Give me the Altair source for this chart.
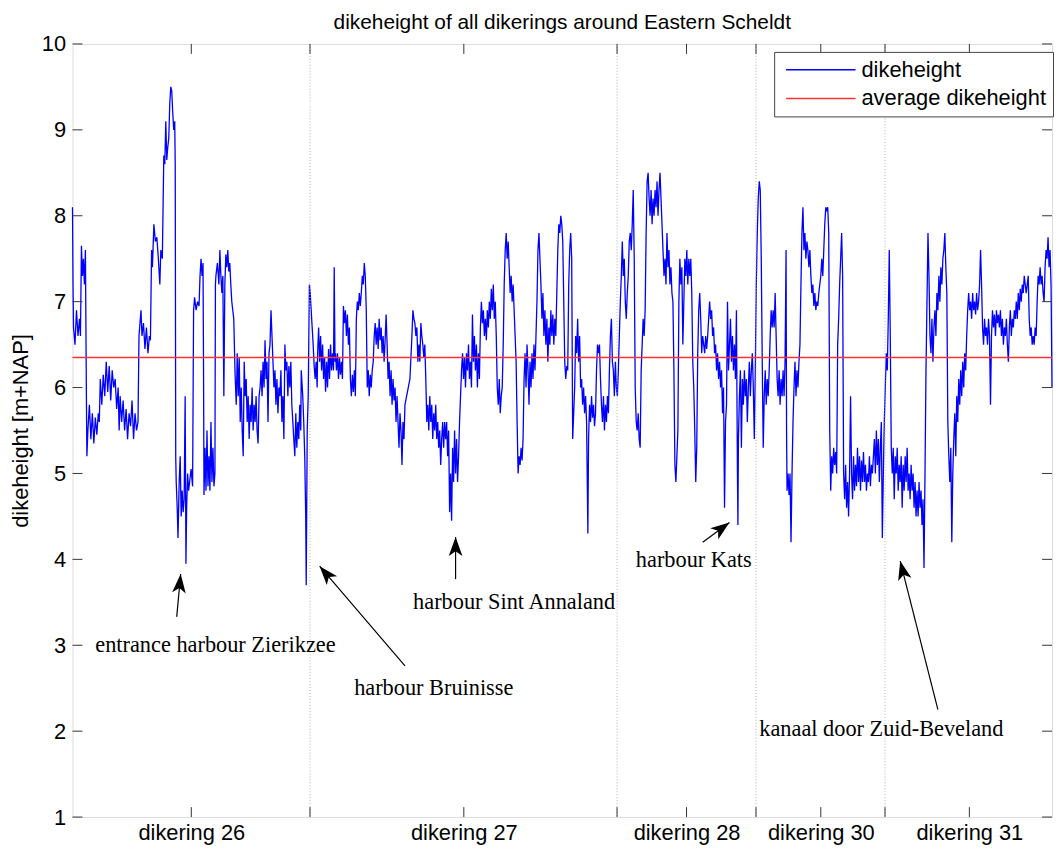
import math
import altair as alt
import pandas as pd

# ---------------- data (chainage index along the dike, dikeheight m+NAP) ----------------
dikering_26 = [
    [73, 8.1], [73.5, 7.2], [74, 6.7], [75.5, 6.5], [77, 6.9], [78.5, 6.6], [80, 6.8], [81, 6.6], [82, 7.65], [83, 7.3],
    [84, 7.5], [85, 7.2], [86, 7.6], [87, 5.9], [87.5, 5.2], [88.5, 5.5], [90, 5.8], [91.5, 5.4], [93, 5.7], [94.5, 5.35],
    [96, 5.65], [97.5, 5.45], [99, 5.7], [100, 5.6], [101, 6.1], [102.5, 5.8], [104, 6.15], [105.5, 5.9], [107, 6.3],
    [108.5, 5.95], [110, 6.25], [111.5, 5.85], [113, 6.2], [114.5, 6.0], [116, 6.1], [117.5, 5.75], [119, 6.0], [120, 5.5],
    [121, 5.9], [122.5, 5.6], [124, 5.85], [125.5, 5.5], [127, 5.75], [128.5, 5.4], [130, 5.7], [131.5, 5.55], [133, 5.85],
    [134.5, 5.4], [136, 5.7], [137.5, 5.5], [139, 5.6], [140, 6.6], [141, 6.75], [142, 6.9], [143, 6.6], [144.5, 6.75],
    [146, 6.45], [147.5, 6.7], [149, 6.4], [150.5, 6.6], [151.5, 6.55], [152.7, 7.6], [153.5, 7.4], [155, 7.9], [156.5, 7.7],
    [158, 7.75], [159.5, 7.5], [161, 7.2], [162, 7.6], [163.5, 7.5], [165, 8.7], [166, 8.6], [167, 9.1], [168, 8.65],
    [169, 8.8], [170, 8.9], [171, 9.3], [172, 9.5], [173, 9.45], [174, 9.2], [175, 9.0], [176, 9.1], [176.5, 8.6], [177, 5.2],
    [177.5, 4.9], [178.5, 4.6], [179.3, 4.25], [180.5, 4.9], [181.5, 5.2], [182.5, 4.5], [183.5, 4.8], [184.5, 4.55],
    [185.5, 4.7], [186.5, 5.9], [187.3, 3.95], [188, 4.6], [189, 5.0], [190, 4.8], [191, 4.9], [192.5, 5.05], [194, 4.85],
    [195, 6.9], [196, 7.05], [197.5, 6.9], [199, 7.0], [200.5, 6.95], [201.5, 7.3], [202.5, 7.5], [203.5, 7.3], [204.5, 7.45],
    [205, 6.3], [205.5, 4.75], [206.5, 5.3], [207.5, 4.8], [208.5, 5.5], [209.5, 4.85], [210.5, 5.2], [211.5, 4.8],
    [212.5, 5.6], [213.5, 4.9], [214.5, 5.3], [215.5, 4.85], [216.5, 5.0], [217, 7.2], [217.5, 7.3], [219, 7.45],
    [220.5, 7.2], [221.5, 7.6], [222.5, 7.3], [223.5, 7.1], [224.5, 7.3], [225.5, 5.9], [226.5, 7.2], [227.5, 7.55],
    [228.5, 7.4], [229.5, 7.6], [230.5, 7.35], [231.5, 7.45], [232.5, 7.2], [233.5, 7.0], [234.5, 6.9], [235.5, 6.8],
    [236.7, 6.2], [237, 6.1], [238, 5.8], [239, 6.4], [240, 5.9], [241, 6.35], [242, 5.6], [243, 6.0], [244, 5.5], [245, 5.2],
    [246, 6.3], [247, 5.9], [248, 6.1], [249, 5.6], [250, 5.9], [251, 5.4], [252, 5.8], [253, 5.6], [254, 6.0], [255, 5.5],
    [256, 5.8], [257, 5.6], [258, 5.9], [259, 5.5], [260, 5.35], [261, 5.9], [262, 6.0], [263, 6.2], [264, 5.9], [265, 6.3],
    [266, 6.0], [267, 6.55], [268, 6.1], [269, 6.3], [270, 5.6], [271, 6.4], [272, 6.5], [273, 6.9], [274, 6.6], [275, 6.3],
    [276, 6.0], [277, 6.2], [278, 5.8], [279, 6.1], [280, 5.7], [281, 6.0], [282, 5.9], [283, 6.2], [284, 5.6], [285, 5.9],
    [286, 5.4], [287, 6.5], [288, 6.2], [289, 6.3], [290, 5.9], [291, 6.25], [292, 6.0], [293, 6.3], [294, 5.8], [296, 5.4],
    [297, 5.2], [298, 5.7], [299, 5.3], [300, 5.6], [301, 5.4], [302, 5.8], [303, 5.5], [303.5, 6.2], [305, 5.9], [306, 5.6],
    [307, 5.2], [308, 4.5], [308.5, 3.7], [309.5, 5.5], [310.5, 5.9], [311.7, 7.2],
]
dikering_27 = [
    [312.5, 7.1], [313.5, 6.9], [314.5, 6.7], [315.5, 6.5], [316.5, 6.25], [317.5, 6.1], [318.5, 6.3], [319.5, 6.0],
    [320, 6.4], [321, 6.7], [322, 6.3], [323, 6.6], [324, 6.2], [325, 6.5], [326, 6.1], [327, 6.35], [328, 5.95], [329, 6.3],
    [330, 6.0], [331, 6.45], [332, 6.1], [333, 6.5], [334, 6.2], [335, 6.4], [336, 6.2], [336.7, 7.4], [337.5, 6.3],
    [338, 6.4], [339, 6.2], [340, 6.4], [341, 6.1], [342, 6.35], [343, 6.15], [344, 6.3], [345, 6.1], [346, 6.95],
    [347, 6.75], [348, 6.9], [349, 6.6], [350, 6.85], [351, 6.5], [352, 6.7], [353, 6.1], [354, 5.9], [355, 6.15],
    [356, 5.95], [357, 6.2], [358, 5.9], [359, 6.8], [360, 7.0], [361, 6.9], [362, 7.1], [363, 6.95], [364, 7.1], [365, 7.3],
    [366, 7.2], [367, 7.45], [368, 7.3], [369, 6.9], [370, 6.0], [371, 6.2], [372, 5.9], [373, 6.15], [374, 6.0], [375, 6.2],
    [376, 6.3], [377, 6.6], [378, 6.75], [379, 6.5], [380, 6.7], [381, 6.45], [382, 6.8], [383, 6.55], [384, 6.7],
    [385, 6.4], [386, 6.6], [387, 6.3], [388, 6.55], [389, 6.85], [390, 6.5], [391, 6.1], [392, 6.3], [393, 5.9], [394, 6.2],
    [395, 5.8], [396, 6.1], [397, 5.85], [398, 6.0], [399, 5.6], [400, 5.9], [401, 5.6], [402, 5.3], [403, 5.7], [404, 5.5],
    [405, 5.1], [406, 5.6], [407, 5.4], [408, 5.8], [413, 6.1], [415, 6.6], [416, 6.9], [417, 6.8], [418, 6.75], [419, 6.6],
    [420, 6.7], [421, 6.3], [422, 6.5], [423, 6.3], [424, 6.75], [425, 6.6], [426, 6.5], [427, 6.35], [428, 6.5], [429, 6.1],
    [430, 5.6], [431, 5.8], [432, 5.5], [433, 5.9], [434, 5.6], [435, 5.8], [436, 5.4], [437, 5.7], [438, 5.5], [439, 5.8],
    [440, 5.4], [441, 5.6], [442, 5.3], [443, 5.5], [444, 5.1], [445, 5.4], [446, 5.6], [447, 5.3], [448, 5.6], [449, 5.4],
    [450, 5.6], [451, 5.2], [452, 5.5], [453, 4.55], [454, 5.0], [455, 4.45], [456, 5.3], [457, 4.9], [458, 5.5], [459, 5.0],
    [460, 5.4], [461, 4.9], [462, 5.2], [463, 5.6], [464, 5.9], [465, 6.2], [466, 6.4], [467, 6.1], [468, 6.35], [469, 6.0],
    [470, 6.4], [471, 6.2], [472, 6.5], [473, 6.1], [474, 6.3], [475, 6.0], [476, 6.85], [477, 6.3], [478, 6.6], [479, 6.2],
    [480, 6.5], [481, 6.0], [482, 6.4], [483, 6.1], [484, 6.7], [485, 7.0], [486, 6.75], [487, 6.9], [488, 6.6], [489, 6.8],
    [490, 6.55], [491, 6.9], [492, 6.7], [493, 7.0], [494, 6.8], [495, 7.15], [496, 6.9], [497, 7.2], [498, 6.8], [499, 7.0],
    [500, 6.6], [501, 6.0], [502, 5.8], [503, 6.1], [504, 5.7], [505, 5.9], [506, 6.0], [507, 6.5], [508, 7.2], [509, 7.6],
    [510, 7.8], [511, 7.5], [512, 7.7], [513, 7.4], [514, 7.1], [515, 7.3], [516, 7.0], [517, 7.2], [518, 6.9], [519, 6.6],
    [520, 6.3], [521, 5.6], [522, 5.0], [523, 5.2], [524, 5.1], [525, 5.3], [526, 5.15], [527, 5.4], [528, 6.1], [529, 6.4],
    [530, 6.0], [531, 6.5], [532, 6.2], [533, 5.8], [534, 6.3], [535, 6.0], [536, 6.4], [537, 6.1], [538, 6.5], [539, 6.2],
    [540, 6.6], [541, 7.0], [542, 7.6], [543, 7.8], [544, 7.5], [545, 7.2], [546, 6.8], [547, 7.1], [548, 6.6], [549, 6.9],
    [550, 6.5], [551, 6.8], [552, 6.3], [553, 6.7], [554, 6.5], [555, 6.9], [556, 6.6], [557, 6.85], [558, 6.5], [559, 6.8],
    [560, 6.6], [561, 7.1], [562, 7.6], [563, 7.9], [564, 7.8], [565, 8.0], [566, 7.9], [567, 7.7], [568, 7.0], [569, 6.3],
    [570, 6.1], [571, 6.25], [572, 6.2], [573, 7.2], [574, 7.6], [575, 7.8], [576, 7.5], [577, 5.4], [578, 5.7], [579, 6.0],
    [580, 6.6], [581, 6.4], [582, 6.8], [583, 6.3], [584, 6.6], [585, 6.0], [586, 6.1], [587, 5.8], [588, 6.0], [589, 5.7],
    [590, 5.9], [591, 5.6], [592.3, 4.3], [593, 5.4], [594, 5.8], [595, 5.6], [596, 5.9], [597, 5.65], [598, 5.8],
    [599, 5.55], [600, 5.7], [601, 6.2], [602, 6.5], [603, 6.4], [604, 6.5], [605, 6.1], [606, 5.8], [607, 5.6], [608, 5.9],
    [609, 5.5], [610, 5.8], [611, 5.6], [612, 5.9], [613, 5.7], [614, 6.2], [615, 6.6], [616, 6.8], [617, 6.3], [618, 6.2],
    [619, 5.9], [620, 6.3], [621, 6.0], [622, 5.9],
]
dikering_28 = [
    [623, 6.2], [624, 6.6], [625, 7.0], [626, 7.3], [627, 7.7], [628, 7.3], [629, 7.5], [630, 7.0], [631, 6.8], [632, 7.1],
    [633, 7.3], [634, 7.7], [635, 7.8], [636, 7.6], [637, 7.9], [638, 8.3], [639, 7.5], [640, 6.0], [641, 5.6], [642, 5.5],
    [643, 5.7], [644, 5.4], [645, 5.3], [646, 6.2], [647, 6.5], [648, 6.8], [649, 6.6], [650, 6.9], [651, 7.8], [652, 8.4],
    [653, 8.5], [654, 8.2], [655, 8.0], [656, 8.3], [657, 7.9], [658, 8.2], [659, 8.0], [660, 8.3], [661, 8.1], [662, 8.4],
    [663, 8.0], [664, 8.3], [665, 8.5], [666, 8.2], [667, 7.9], [668, 7.6], [669, 7.3], [670, 7.5], [671, 7.2], [672, 7.8],
    [673, 7.4], [674, 7.6], [675, 7.2], [676, 7.4], [677, 7.1], [678, 7.0], [679, 6.2], [680, 5.1], [681, 4.9], [682, 5.2],
    [683, 5.5], [684, 7.0], [685, 7.5], [686, 7.2], [687, 7.4], [688, 6.5], [689, 7.0], [690, 7.5], [691, 7.3], [692, 7.6],
    [693, 7.2], [694, 7.5], [695, 7.3], [696, 7.5], [697, 7.1], [698, 6.3], [699, 6.0], [700, 5.5], [701, 4.9], [702, 5.3],
    [703, 6.4], [704, 6.9], [705, 7.1], [706, 6.8], [707, 6.4], [708, 6.6], [709, 6.5], [710, 6.4], [711, 6.6], [712, 6.45],
    [713, 6.6], [715, 7.0], [716, 6.8], [717, 6.9], [718, 6.6], [719, 6.7], [720, 6.4], [721, 6.5], [722, 6.2], [723, 6.4],
    [724, 6.1], [725, 6.3], [726, 6.0], [727, 6.2], [728, 5.7], [729, 6.0], [730, 4.6], [731, 5.6], [732, 5.8], [733, 7.0],
    [734, 6.2], [735, 6.5], [736, 6.8], [737, 6.3], [738, 6.6], [739, 6.2], [740, 6.5], [741, 6.1], [742, 6.9], [743, 5.0],
    [743.5, 4.4], [744, 5.4], [745, 5.9], [746, 6.2], [747, 5.3], [748, 6.1], [749, 5.8], [750, 6.2], [751, 5.9], [752, 6.1],
    [753, 5.6], [754, 6.0], [755, 6.3], [756, 5.9], [757, 6.2], [758, 6.4], [759, 6.0], [760, 5.4], [761, 6.2], [762, 7.2],
]
dikering_30 = [
    [763, 7.8], [764, 8.2], [765, 8.4], [766, 8.3], [767, 7.5], [768, 6.3], [769, 5.3], [770, 5.9], [771, 6.2], [772, 5.8],
    [773, 6.1], [774, 5.9], [775, 6.2], [776, 6.6], [777, 6.9], [778, 6.7], [779, 6.9], [780, 6.7], [781, 7.1], [782, 6.6],
    [783, 6.1], [784, 5.9], [785, 6.2], [786, 5.8], [787, 6.1], [788, 5.9], [789, 6.2], [790, 5.9], [791, 6.3], [792, 7.6],
    [792.5, 5.5], [793, 4.8], [794, 5.0], [795, 4.75], [796, 5.0], [797, 4.2], [798, 5.0], [799, 5.6], [800, 6.0], [801, 6.3],
    [802, 5.9], [803, 6.2], [804, 6.0], [805, 6.3], [806, 6.5], [807, 7.2], [808, 7.8], [809, 8.1], [810, 7.6], [811, 7.8],
    [812, 7.5], [813, 7.7], [814, 7.6], [815, 7.4], [816, 7.6], [817, 7.3], [818, 7.1], [819, 7.2], [820, 6.95], [821, 7.1],
    [822, 6.9], [823, 7.0], [824, 6.95], [825, 7.1], [826, 7.2], [827, 7.3], [828, 7.5], [829, 7.3], [830, 7.6], [831, 7.9],
    [832, 8.1], [833, 8.05], [834, 8.1], [835, 7.8], [836, 5.5], [837, 4.8], [838, 5.2], [839, 5.0], [840, 5.3], [841, 5.1],
    [842, 5.25], [843, 5.0], [844, 6.5], [845, 6.8], [846, 7.2], [847, 7.5], [848, 7.8], [849, 7.3], [850, 5.0], [851, 4.7],
    [852, 5.1], [853, 4.6], [854, 4.9], [855, 4.5], [856, 5.0], [857, 5.9], [858, 5.0], [859, 4.7], [860, 5.2], [861, 4.8],
    [862, 5.1], [863, 4.85], [864, 5.3], [865, 4.9], [866, 5.2], [867, 4.8], [868, 5.15], [869, 4.9], [870, 5.25], [871, 4.9],
    [872, 5.1], [873, 4.8], [874, 5.0], [875, 4.9], [876, 5.2], [877, 4.85], [878, 5.1], [879, 5.0], [880, 5.2], [881, 5.4],
    [882, 5.0], [883, 5.5], [884, 5.1], [885, 5.4], [886, 4.9], [887, 5.3], [888, 5.6], [889, 4.25], [890, 5.0], [891, 5.6],
    [892, 6.0],
]
dikering_31 = [
    [893, 6.4], [894, 6.2], [895, 6.8], [896, 7.6], [897, 6.6], [898, 5.3], [899, 5.0], [900, 5.3], [901, 4.7], [902, 5.2],
    [903, 5.0], [904, 5.3], [905, 4.8], [906, 5.1], [907, 4.9], [908, 5.2], [909, 4.6], [910, 5.1], [911, 4.8], [912, 5.2],
    [913, 4.9], [914, 5.3], [915, 4.8], [916, 5.0], [917, 4.7], [918, 5.1], [919, 4.8], [920, 5.0], [921, 4.6], [922, 4.9],
    [923, 4.5], [924, 4.8], [925, 4.5], [926, 4.9], [927, 4.6], [928, 4.8], [929, 4.4], [930, 4.7], [931, 3.9], [932, 5.0],
    [933, 6.2], [934, 7.0], [935, 7.8], [936, 7.3], [937, 6.6], [938, 6.4], [939, 6.8], [940, 6.3], [941, 6.7], [942, 6.9],
    [943, 6.6], [944, 7.1], [945, 6.9], [946, 7.3], [947, 7.0], [948, 7.4], [949, 7.2], [950, 7.5], [951, 7.6], [952, 7.8],
    [953, 7.4], [954, 7.1], [955, 5.6], [956, 5.2], [957, 4.9], [958, 5.3], [959, 4.2], [960, 5.0], [961, 5.4], [962, 5.7],
    [963, 5.2], [964, 5.9], [965, 5.6], [966, 6.1], [967, 5.8], [968, 6.2], [969, 5.9], [970, 6.3], [971, 6.0], [972, 6.4],
    [973, 6.2], [974, 6.6], [975, 6.9], [976, 7.1], [977, 6.9], [978, 7.0], [979, 6.8], [980, 7.1], [981, 6.9], [982, 7.0],
    [983, 6.85], [984, 7.1], [985, 6.9], [986, 7.0], [987, 7.2], [988, 7.6], [989, 7.2], [990, 6.7], [991, 6.5], [992, 6.8],
    [993, 6.6], [994, 6.7], [995, 6.5], [996, 6.8], [997, 6.6], [998, 5.8], [999, 6.6], [1000, 6.9], [1001, 6.7],
    [1002, 6.85], [1003, 6.6], [1004, 6.9], [1005, 6.75], [1006, 6.85], [1007, 6.7], [1008, 6.9], [1009, 6.6], [1010, 6.8],
    [1011, 6.5], [1012, 6.7], [1013, 6.6], [1014, 6.8], [1015, 6.5], [1016, 6.3], [1017, 6.7], [1018, 6.9], [1019, 6.6],
    [1020, 6.8], [1021, 6.7], [1022, 6.9], [1023, 6.8], [1024, 7.0], [1025, 6.8], [1026, 7.1], [1027, 6.9], [1028, 7.15],
    [1029, 7.0], [1030, 7.2], [1031, 7.1], [1032, 7.3], [1033, 7.2], [1034, 7.1], [1035, 7.2], [1036, 7.3], [1037, 6.8],
    [1038, 6.6], [1039, 6.7], [1040, 6.5], [1041, 6.6], [1042, 6.5], [1043, 6.7], [1044, 6.6], [1045, 7.0], [1046, 7.3],
    [1047, 7.2], [1048, 7.4], [1049, 7.2], [1050, 7.3], [1051, 7.1], [1052, 7.0], [1053, 7.4], [1054, 7.6], [1055, 7.5],
    [1056, 7.75], [1057, 7.4], [1058, 7.6], [1059, 7.2], [1060, 6.0],
]
average_dikeheight = 6.35

ring_labels = ["dikering 26", "dikering 27", "dikering 28", "dikering 30", "dikering 31"]
ring_centres = [192.7, 467.3, 691.7, 827.0, 976.7]
ring_bounds = [312.3, 621.7, 761.7, 891.7]
y_ticks = [1, 2, 3, 4, 5, 6, 7, 8, 9, 10]

note_text = ["entrance harbour Zierikzee", "harbour Bruinisse", "harbour Sint Annaland",
             "harbour Kats", "kanaal door Zuid-Beveland"]
note_x = [217, 437, 518, 699, 888]
note_y = [3.0, 2.5, 3.5, 3.99, 2.02]
arrow_tail_x = [178, 408, 459, 708, 945]
arrow_tail_y = [3.33, 2.76, 3.77, 4.2, 2.25]
arrow_tip_x = [182, 322, 459, 735, 907]
arrow_tip_y = [3.83, 3.92, 4.26, 4.43, 3.98]

# ---------------- geometry ----------------
W, H = 987, 779
X0, X1 = 73, 1060
Y0, Y1 = 1, 10
FONT = "Liberation Sans"
SERIF = "Liberation Serif"
FS = 22
RED = "#ff3333"
BLUE = "#0000ff"

rows = []
for seg in (dikering_26, dikering_27, dikering_28, dikering_30, dikering_31):
    for cx, h in seg:
        rows.append({"chainage": cx, "height": h, "series": "dikeheight"})
line_df = pd.DataFrame(rows)
avg_df = pd.DataFrame({"height": [average_dikeheight]})

xs = alt.Scale(domain=[X0, X1], nice=False, zero=False)
ys = alt.Scale(domain=[Y0, Y1], nice=False, zero=False)
cs = alt.Scale(domain=["dikeheight", "average dikeheight"], range=[BLUE, RED])

label_expr = " : ".join(
    f"abs(datum.value - {c}) < 0.5 ? '{t}'" for c, t in zip(ring_centres, ring_labels)
) + " : ''"

x_axis = alt.Axis(values=ring_centres, labelExpr=label_expr, title=None, ticks=False, domain=False,
                  grid=False, labelFontSize=FS, labelFont=FONT, labelColor="black", labelPadding=6,
                  labelOverlap=False)
y_axis = alt.Axis(values=y_ticks, title="dikeheight [m+NAP]", ticks=False, domain=False, grid=False,
                  labelFontSize=FS, labelFont=FONT, labelColor="black", labelPadding=7,
                  titleFontSize=FS, titleFont=FONT, titleFontWeight="normal", titleColor="black",
                  titlePadding=9)


def X(field):
    return alt.X(field, scale=xs, axis=x_axis)


def Y(field):
    return alt.Y(field, scale=ys, axis=y_axis)


legend = alt.Legend(
    title=None, orient="none", legendX=707, legendY=8, direction="vertical",
    symbolType="M-7,0L7,0", symbolSize=100, symbolStrokeWidth=1.6, symbolOffset=29,
    labelOffset=30, labelFontSize=FS, labelFont=FONT, labelColor="black", labelLimit=400,
    padding=7, rowPadding=7, strokeColor="#444444", fillColor="white", cornerRadius=0,
)

line = alt.Chart(line_df).mark_line(strokeWidth=1.3, interpolate="linear").encode(
    x=X("chainage:Q"),
    y=Y("height:Q"),
    color=alt.Color("series:N", scale=cs, legend=legend),
    order=alt.Order("chainage:Q"),
)

avg = alt.Chart(avg_df).mark_rule(strokeWidth=1.6, color=RED).encode(
    y=Y("height:Q"),
)

bounds = alt.Chart(pd.DataFrame({"b": ring_bounds})).mark_rule(
    color="#b0b0b0", strokeDash=[1, 2], strokeWidth=1
).encode(x=X("b:Q"))

xt_df = pd.DataFrame({"t": sorted(ring_centres + ring_bounds)})
yt_df = pd.DataFrame({"v": y_ticks})
tick_col = "#333333"
xt_bottom = alt.Chart(xt_df).mark_rule(color=tick_col).encode(
    x=X("t:Q"), y=alt.value(H), y2=alt.value(H - 10))
xt_top = alt.Chart(xt_df).mark_rule(color=tick_col).encode(
    x=X("t:Q"), y=alt.value(0), y2=alt.value(10))
yt_left = alt.Chart(yt_df).mark_rule(color=tick_col).encode(
    y=Y("v:Q"), x=alt.value(0), x2=alt.value(10))
yt_right = alt.Chart(yt_df).mark_rule(color=tick_col).encode(
    y=Y("v:Q"), x=alt.value(W - 10), x2=alt.value(W))

px_per_x = W / (X1 - X0)
px_per_y = H / (Y1 - Y0)
angles = []
for tx, ty, hx, hy in zip(arrow_tail_x, arrow_tail_y, arrow_tip_x, arrow_tip_y):
    dx = (hx - tx) * px_per_x
    dy = -(hy - ty) * px_per_y
    angles.append(math.degrees(math.atan2(dx, -dy)) % 360)
arrow_df = pd.DataFrame({"tx": arrow_tail_x, "ty": arrow_tail_y, "hx": arrow_tip_x,
                         "hy": arrow_tip_y, "angle": angles})
notes_df = pd.DataFrame({"nx": note_x, "ny": note_y, "text": note_text})

shafts = alt.Chart(arrow_df).mark_rule(color="black", strokeWidth=1.2).encode(
    x=X("tx:Q"), y=Y("ty:Q"), x2="hx:Q", y2="hy:Q")
heads = alt.Chart(arrow_df).mark_point(
    shape="M0,0L0.65,1.8L0,1.35L-0.65,1.8Z", filled=True, color="black", opacity=1, size=450, strokeWidth=0
).encode(x=X("hx:Q"), y=Y("hy:Q"), angle=alt.Angle("angle:Q", scale=None))
notes = alt.Chart(notes_df).mark_text(font=SERIF, fontSize=22.5, color="black").encode(
    x=X("nx:Q"), y=Y("ny:Q"), text="text:N")

chart = alt.layer(
    line, bounds, avg, xt_bottom, xt_top, yt_left, yt_right, shafts, heads, notes
).properties(
    width=W, height=H,
    title=alt.TitleParams("dikeheight of all dikerings around Eastern Scheldt", font=FONT, fontSize=21,
                          fontWeight="normal", color="black", anchor="middle", offset=0),
    autosize=alt.AutoSizeParams(type="none"),
    padding={"left": 65, "top": 33, "right": 4, "bottom": 35},
).configure_view(stroke="#333333", strokeWidth=1).configure(background="white")

chart.save("out.html", embed_options={"renderer": "svg", "actions": False})
